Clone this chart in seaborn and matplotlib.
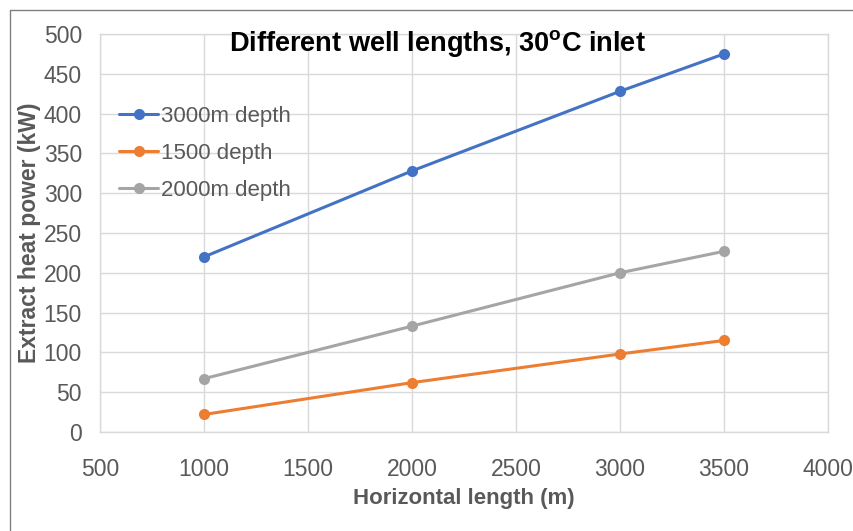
import matplotlib
matplotlib.use("Agg")
import matplotlib.pyplot as plt
import matplotlib.lines as mlines
import seaborn as sns
import pandas as pd

# Horizontal well length (m) and extracted heat power (kW) per depth case
lengths = [1000, 2000, 3000, 3500]
power_3000m = [220, 328, 428, 475]
power_1500 = [22, 62, 98, 115]
power_2000m = [67, 133, 200, 227]

series_names = ["3000m depth", "1500 depth", "2000m depth"]
series_values = [power_3000m, power_1500, power_2000m]
series_colors = ["#4472C4", "#ED7D31", "#A5A5A5"]

x_ticks = [500, 1000, 1500, 2000, 2500, 3000, 3500, 4000]
y_ticks = [0, 50, 100, 150, 200, 250, 300, 350, 400, 450, 500]

rows = []
for name, vals in zip(series_names, series_values):
    for x, y in zip(lengths, vals):
        rows.append({"length": x, "power": y, "case": name})
df = pd.DataFrame(rows)

sns.set_theme(style="white")
plt.rcParams["font.family"] = ["Liberation Sans", "DejaVu Sans"]
plt.rcParams["mathtext.fontset"] = "custom"
plt.rcParams["mathtext.rm"] = "Liberation Sans"
plt.rcParams["mathtext.bf"] = "Liberation Sans:bold"

fig = plt.figure(figsize=(8.54, 5.31), dpi=100)
ax = fig.add_axes([100 / 854, 1 - 432 / 531, 728 / 854, 398 / 531])

sns.lineplot(
    data=df, x="length", y="power", hue="case",
    hue_order=series_names, palette=series_colors,
    marker="o", markersize=8, markeredgewidth=0, linewidth=2.2,
    legend=False, ax=ax, zorder=3,
)

ax.set_xlim(500, 4000)
ax.set_ylim(0, 500)
ax.set_xticks(x_ticks)
ax.set_yticks(y_ticks)
ax.grid(True, color="#D9D9D9", linewidth=1.0, zorder=0)
for s in ax.spines.values():
    s.set_color("#D9D9D9")
    s.set_linewidth(1.0)
ax.tick_params(axis="both", labelsize=16.5, colors="#595959", length=0)
ax.tick_params(axis="y", pad=13)
ax.tick_params(axis="x", pad=19)

ax.set_xlabel("Horizontal length (m)", fontsize=16, fontweight="bold",
              color="#595959", labelpad=5)
ax.set_ylabel("Extract heat power (kW)", fontsize=16.5, fontweight="bold",
              color="#595959")
ax.yaxis.set_label_coords(-0.081, 0.5)

ax.text(0.464, 0.975, r"Different well lengths, 30$^{\mathbf{o}}$C inlet",
        transform=ax.transAxes, ha="center", va="center",
        fontsize=19.5, fontweight="bold", color="black")

handles = [
    mlines.Line2D([], [], color=c, marker="o", markersize=8,
                  markeredgewidth=0, linewidth=2.2)
    for c in series_colors
]
leg = ax.legend(handles, series_names, loc="upper left",
                bbox_to_anchor=(0.014, 0.842), frameon=False,
                fontsize=16, handlelength=1.75, handletextpad=0.15,
                labelspacing=0.72, borderaxespad=0)
for t in leg.get_texts():
    t.set_color("#595959")

# outer chart frame: left and top edges
fig.add_artist(mlines.Line2D([10 / 854, 10 / 854], [0, 1 - 10 / 531],
                             color="#808080", linewidth=1.0))
fig.add_artist(mlines.Line2D([10 / 854, 1], [1 - 10 / 531, 1 - 10 / 531],
                             color="#808080", linewidth=1.0))

fig.savefig("out.png", dpi=100)
